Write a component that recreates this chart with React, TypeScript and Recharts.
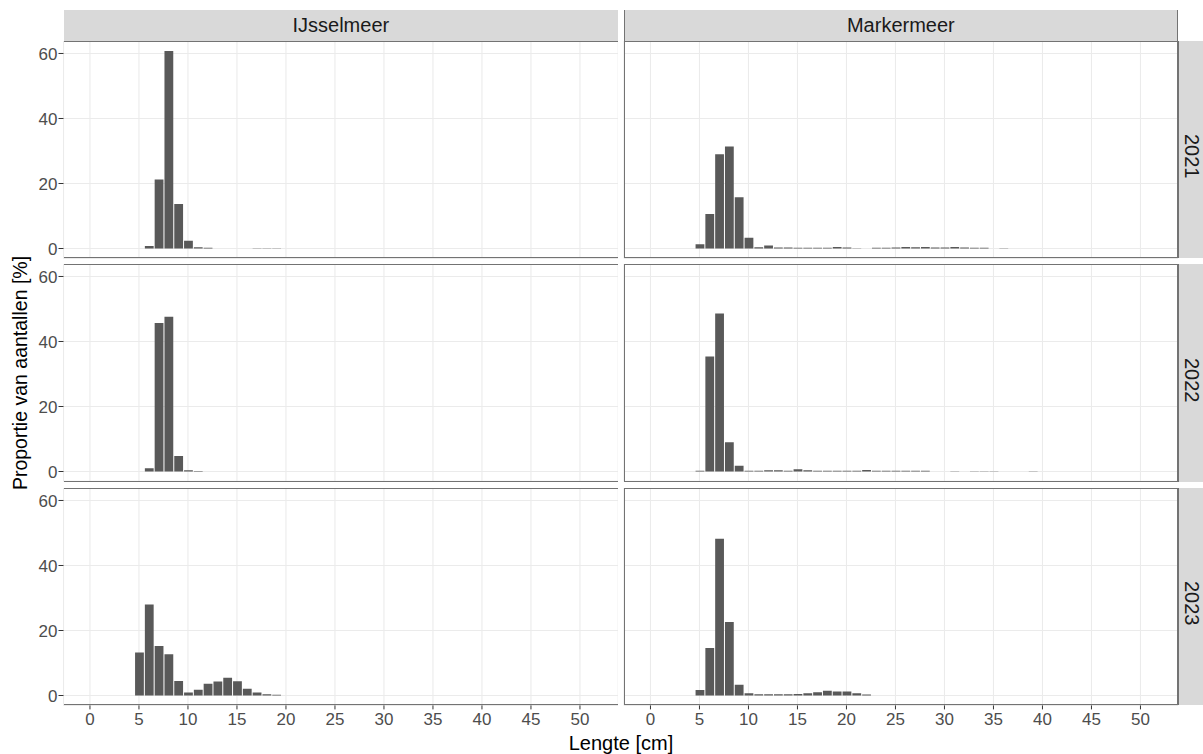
import { BarChart, Bar, XAxis, YAxis, CartesianGrid } from 'recharts';

// length classes [cm]
const lengtes = [
  5, 6, 7, 8, 9, 10, 11, 12, 13, 14, 15, 16, 17, 18, 19, 20, 21, 22,
  23, 24, 25, 26, 27, 28, 29, 30, 31, 32, 33, 34, 35, 36, 37, 38, 39,
];

const gebieden = ['IJsselmeer', 'Markermeer'];
const jaren = ['2021', '2022', '2023'];

// proportion of numbers [%] per length class
const ijssel2021 = [
  0, 0.8, 21.2, 60.8, 13.7, 2.4, 0.4, 0.2, 0, 0, 0, 0, 0.1, 0.1, 0.1, 0, 0, 0,
  0, 0, 0, 0, 0, 0, 0, 0, 0, 0, 0, 0, 0, 0, 0, 0, 0,
];
const marker2021 = [
  1.3, 10.6, 29.0, 31.4, 15.8, 3.3, 0.4, 0.9, 0.3, 0.3, 0.2, 0.2, 0.2, 0.2, 0.5, 0.3, 0.1, 0,
  0.2, 0.2, 0.3, 0.5, 0.4, 0.5, 0.3, 0.3, 0.5, 0.3, 0.2, 0.2, 0, 0.1, 0, 0, 0,
];
const ijssel2022 = [
  0, 1.0, 45.7, 47.6, 4.8, 0.4, 0.15, 0, 0, 0, 0, 0, 0, 0, 0, 0, 0, 0,
  0, 0, 0, 0, 0, 0, 0, 0, 0, 0, 0, 0, 0, 0, 0, 0, 0,
];
const marker2022 = [
  0.2, 35.4, 48.6, 9.0, 1.8, 0.2, 0.2, 0.4, 0.4, 0.2, 0.7, 0.4, 0.2, 0.2, 0.2, 0.2, 0.2, 0.5,
  0.2, 0.2, 0.2, 0.2, 0.2, 0.2, 0, 0, 0.1, 0, 0.1, 0.1, 0.1, 0, 0, 0, 0.1,
];
const ijssel2023 = [
  13.2, 28.0, 15.2, 12.7, 4.5, 0.9, 1.8, 3.6, 4.3, 5.5, 4.4, 2.1, 0.9, 0.4, 0.2, 0, 0, 0,
  0, 0, 0, 0, 0, 0, 0, 0, 0, 0, 0, 0, 0, 0, 0, 0, 0,
];
const marker2023 = [
  1.7, 14.6, 48.2, 22.6, 3.3, 0.7, 0.4, 0.4, 0.4, 0.4, 0.5, 0.7, 1.0, 1.5, 1.2, 1.2, 0.7, 0.3,
  0, 0, 0, 0, 0, 0, 0, 0, 0, 0, 0, 0, 0, 0, 0, 0, 0,
];

const xTicks = [0, 5, 10, 15, 20, 25, 30, 35, 40, 45, 50];
const yTicks = [0, 20, 40, 60];

// rows = years, columns = lakes
const panels = [
  [ijssel2021, marker2021],
  [ijssel2022, marker2022],
  [ijssel2023, marker2023],
];

const X_DOMAIN: [number, number] = [-2.7, 53.9];
const Y_DOMAIN: [number, number] = [-3.04, 63.84];
const PW = 554.7; // panel width
const PH = 217.4; // panel height
const COL_LEFT = [63.5, 623.5];
const ROW_TOP = [40.8, 264.3, 487.8];
const FRAME = '#737373';
const FONT = '"Liberation Sans", Arial, sans-serif';

const NoTick = () => <g />;

function Panel({ values, row, col }: { values: number[]; row: number; col: number }) {
  const showY = col === 0;
  const showX = row === 2;
  const yw = showY ? COL_LEFT[0] : 1;
  const xh = showX ? 30 : 1;
  const data = lengtes.map((l, i) => ({ lengte: l, pct: values[i] }));
  const tickStyle = { fill: '#4d4d4d', fontSize: 17, fontFamily: FONT };

  return (
    <div style={{ position: 'absolute', left: COL_LEFT[col] - yw, top: ROW_TOP[row] }}>
      <BarChart width={PW + yw} height={PH + xh} data={data} margin={{ top: 0, right: 0, bottom: 0, left: 0 }}>
        <CartesianGrid stroke="#ebebeb" strokeWidth={1.1} />
        <XAxis
          dataKey="lengte"
          type="number"
          domain={X_DOMAIN}
          ticks={xTicks}
          allowDataOverflow
          interval={0}
          height={xh}
          axisLine={false}
          tick={showX ? tickStyle : NoTick}
          tickLine={showX ? { stroke: '#333333' } : false}
          tickSize={4}
          tickMargin={4}
        />
        <YAxis
          type="number"
          domain={Y_DOMAIN}
          ticks={yTicks}
          allowDataOverflow
          interval={0}
          width={yw}
          axisLine={false}
          tick={showY ? tickStyle : NoTick}
          tickLine={showY ? { stroke: '#333333' } : false}
          tickSize={5}
          tickMargin={1}
        />
        <Bar dataKey="pct" fill="#595959" barSize={8.8} isAnimationActive={false} />
      </BarChart>
      {/* panel frame */}
      <div
        style={{
          position: 'absolute',
          left: yw,
          top: 0,
          width: PW,
          height: PH,
          boxSizing: 'border-box',
          borderTop: `1px solid ${FRAME}`,
          borderBottom: `1px solid ${FRAME}`,
          borderLeft: col === 1 ? `1px solid ${FRAME}` : 'none',
          borderRight: col === 1 ? `1px solid ${FRAME}` : 'none',
          pointerEvents: 'none',
        }}
      />
    </div>
  );
}

export default function App() {
  return (
    <div
      style={{
        position: 'absolute',
        left: 0,
        top: 0,
        width: 1203,
        height: 754,
        overflow: 'hidden',
        background: '#ffffff',
        fontFamily: FONT,
      }}
    >
      {/* top strips */}
      {gebieden.map((g, c) => (
        <div
          key={g}
          style={{
            position: 'absolute',
            left: COL_LEFT[c],
            top: 10,
            width: PW,
            height: 31,
            background: '#d9d9d9',
            boxSizing: 'border-box',
            borderLeft: c === 1 ? `1px solid ${FRAME}` : 'none',
            borderRight: c === 1 ? `1px solid ${FRAME}` : 'none',
            color: '#1a1a1a',
            fontSize: 20,
            lineHeight: '31px',
            textAlign: 'center',
          }}
        >
          {g}
        </div>
      ))}

      {/* right strips */}
      {jaren.map((j, r) => (
        <div
          key={j}
          style={{
            position: 'absolute',
            left: COL_LEFT[1] + PW,
            top: ROW_TOP[r],
            width: 31,
            height: PH,
            background: '#d9d9d9',
            boxSizing: 'border-box',
            borderLeft: `1px solid ${FRAME}`,
          }}
        >
          <div
            style={{
              position: 'absolute',
              left: 0,
              top: PH / 2 - 15,
              width: 30,
              height: 30,
              lineHeight: '30px',
              textAlign: 'center',
              transform: 'rotate(90deg)',
              color: '#1a1a1a',
              fontSize: 20,
              marginLeft: -2,
            }}
          >
            {j}
          </div>
        </div>
      ))}

      {panels.map((rowVals, r) =>
        rowVals.map((vals, c) => <Panel key={`${r}-${c}`} values={vals} row={r} col={c} />)
      )}

      {/* axis titles */}
      <div
        style={{
          position: 'absolute',
          left: 20 - 200,
          top: 373 - 12,
          width: 400,
          height: 24,
          lineHeight: '24px',
          textAlign: 'center',
          transform: 'rotate(-90deg)',
          fontSize: 19.5,
          color: '#000000',
        }}
      >
        Proportie van aantallen [%]
      </div>
      <div
        style={{
          position: 'absolute',
          left: 621 - 200,
          top: 743 - 12,
          width: 400,
          height: 24,
          lineHeight: '24px',
          textAlign: 'center',
          fontSize: 20,
          color: '#000000',
        }}
      >
        Lengte [cm]
      </div>
    </div>
  );
}
